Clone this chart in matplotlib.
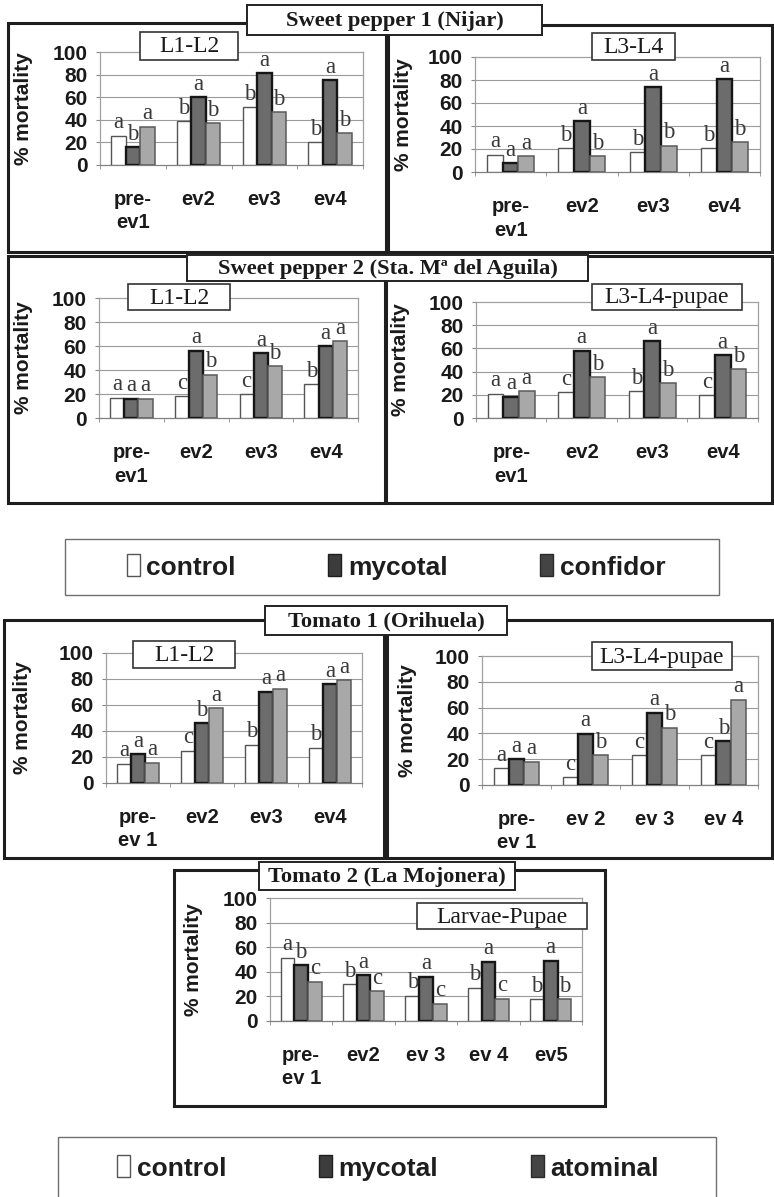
import matplotlib
matplotlib.use("Agg")
import matplotlib.pyplot as plt
from matplotlib.patches import Rectangle, Patch
import numpy as np

W, H = 774, 1197

# ---------------- data ----------------
treat_a = ["control", "mycotal", "confidor"]
treat_b = ["control", "mycotal", "atominal"]

cats_sp = ["pre-\nev1", "ev2", "ev3", "ev4"]
cats_t1l = ["pre-\nev 1", "ev2", "ev3", "ev4"]
cats_t1r = ["pre-\nev 1", "ev 2", "ev 3", "ev 4"]
cats_t2 = ["pre-\nev 1", "ev2", "ev 3", "ev 4", "ev5"]

# Sweet pepper 1 (Nijar) L1-L2
sp1a_control = [26, 39, 51, 20]
sp1a_mycotal = [16, 60, 81, 75]
sp1a_confidor = [34, 37, 47, 28]
sp1a_letters = ["aba", "bab", "bab", "bab"]

# Sweet pepper 1 (Nijar) L3-L4
sp1b_control = [15, 21, 17, 21]
sp1b_mycotal = [8, 44, 74, 81]
sp1b_confidor = [13.5, 13.5, 23, 26]
sp1b_letters = ["aaa", "bab", "bab", "bab"]

# Sweet pepper 2 L1-L2
sp2a_control = [17, 18, 20, 28]
sp2a_mycotal = [16, 56, 54, 60]
sp2a_confidor = [16, 36, 43, 64]
sp2a_letters = ["aaa", "cab", "cab", "baa"]

# Sweet pepper 2 L3-L4-pupae
sp2b_control = [21, 22, 23, 19.5]
sp2b_mycotal = [18.5, 58, 66.5, 54]
sp2b_confidor = [23, 35, 30, 42]
sp2b_letters = ["aaa", "cab", "bab", "cab"]

# Tomato 1 L1-L2
t1a_control = [15, 25, 29.5, 27]
t1a_mycotal = [22, 46, 70, 76]
t1a_atominal = [15.5, 57.5, 72.5, 79]
t1a_letters = ["aaa", "cba", "baa", "baa"]

# Tomato 1 L3-L4-pupae
t1b_control = [13, 6, 23, 23]
t1b_mycotal = [20, 39.5, 56, 34]
t1b_atominal = [18, 23, 44.5, 66]
t1b_letters = ["aaa", "cab", "cab", "cba"]

# Tomato 2 Larvae-Pupae
t2_control = [51.5, 30, 20.5, 27, 17.5]
t2_mycotal = [45.5, 37, 36, 48, 49]
t2_atominal = [32, 24, 14, 18, 17.5]
t2_letters = ["abc", "bac", "bac", "bac", "bab"]

yticks = [0, 20, 40, 60, 80, 100]

# ---------------- layout ----------------
panels = [
    dict(rect=(100, 52, 363, 165), cats=cats_sp, series=(sp1a_control, sp1a_mycotal, sp1a_confidor),
         letters=sp1a_letters, sub="L1-L2", subbox=(140, 32, 238, 60), ylab_off=67),
    dict(rect=(475, 57, 760, 172), cats=cats_sp, series=(sp1b_control, sp1b_mycotal, sp1b_confidor),
         letters=sp1b_letters, sub="L3-L4", subbox=(592, 33, 675, 60), ylab_off=62),
    dict(rect=(99, 298, 358, 418), cats=cats_sp, series=(sp2a_control, sp2a_mycotal, sp2a_confidor),
         letters=sp2a_letters, sub="L1-L2", subbox=(128, 284, 230, 310), ylab_off=66),
    dict(rect=(476, 302, 758, 418), cats=cats_sp, series=(sp2b_control, sp2b_mycotal, sp2b_confidor),
         letters=sp2b_letters, sub="L3-L4-pupae", subbox=(592, 284, 742, 310), ylab_off=66),
    dict(rect=(106, 653, 362, 783), cats=cats_t1l, series=(t1a_control, t1a_mycotal, t1a_atominal),
         letters=t1a_letters, sub="L1-L2", subbox=(133, 641, 235, 668), ylab_off=74),
    dict(rect=(482, 656, 758, 785), cats=cats_t1r, series=(t1b_control, t1b_mycotal, t1b_atominal),
         letters=t1b_letters, sub="L3-L4-pupae", subbox=(592, 642, 732, 670), ylab_off=65),
    dict(rect=(270, 898, 582, 1021), cats=cats_t2, series=(t2_control, t2_mycotal, t2_atominal),
         letters=t2_letters, sub="Larvae-Pupae", subbox=(417, 903, 587, 929), ylab_off=67),
]

frames = [
    (8, 23, 386, 252), (388, 25, 772, 252),
    (8, 256, 385, 503), (386, 256, 772, 503),
    (4, 620, 384, 858), (387, 620, 772, 858),
    (174, 870, 605, 1106),
]
legend_boxes = [(65, 539, 719, 595), (58, 1137, 716, 1205)]

titles = [
    ("Sweet pepper 1 (Nijar)", (247, 5, 542, 35)),
    ("Sweet pepper 2 (Sta. Mª del Aguila)", (187, 255, 588, 281)),
    ("Tomato 1 (Orihuela)", (265, 606, 507, 635)),
    ("Tomato 2 (La Mojonera)", (259, 862, 515, 890)),
]

bar_styles = [
    dict(facecolor="white", edgecolor="#555555", linewidth=1.0),
    dict(facecolor="#6c6c6c", edgecolor="#161616", linewidth=1.7),
    dict(facecolor="#a8a8a8", edgecolor="#5a5a5a", linewidth=1.1),
]

SANS = ["Liberation Sans", "DejaVu Sans"]
SERIF = ["Liberation Serif", "DejaVu Serif"]

fig = plt.figure(figsize=(W / 100, H / 100), dpi=100)
fig.patch.set_facecolor("white")

bg = fig.add_axes([0, 0, 1, 1], zorder=0)
bg.set_xlim(0, W)
bg.set_ylim(H, 0)
bg.axis("off")

fg = fig.add_axes([0, 0, 1, 1], zorder=5)
fg.set_xlim(0, W)
fg.set_ylim(H, 0)
fg.axis("off")

for (x0, y0, x1, y1) in frames:
    bg.add_patch(Rectangle((x0, y0), x1 - x0, y1 - y0, fill=False, edgecolor="#1e1e1e", linewidth=2.2))
for (x0, y0, x1, y1) in legend_boxes:
    bg.add_patch(Rectangle((x0, y0), x1 - x0, y1 - y0, fill=False, edgecolor="#707070", linewidth=1.0,
                           clip_on=False))

for text, (x0, y0, x1, y1) in titles:
    fg.add_patch(Rectangle((x0, y0), x1 - x0, y1 - y0, facecolor="white", edgecolor="#222222", linewidth=1.4))
    fg.text((x0 + x1) / 2, (y0 + y1) / 2 + 1, text, ha="center", va="center", family=SERIF,
            weight="bold", fontsize=16.2, color="#1a1a1a")

bw = 0.22
for p in panels:
    x0, y0, x1, y1 = p["rect"]
    ax = fig.add_axes([x0 / W, 1 - y1 / H, (x1 - x0) / W, (y1 - y0) / H], zorder=1)
    ax.set_facecolor("none")
    n = len(p["cats"])
    x = np.arange(n)
    for k, (vals, st) in enumerate(zip(p["series"], bar_styles)):
        xs = x + (k - 1) * bw
        ax.bar(xs, vals, bw, zorder=3, **st)
        for xi, v, lg in zip(xs, vals, p["letters"]):
            ax.text(xi, v + 2.0, lg[k], ha="center", va="bottom", family=SERIF, fontsize=16.5,
                    color="#3a3a3a", zorder=4, clip_on=False)
    ax.set_xlim(-0.5, n - 0.5)
    ax.set_ylim(0, 100)
    ax.set_yticks(yticks)
    ax.set_yticklabels([str(t) for t in yticks], family=SANS, weight="bold", fontsize=15, color="#1a1a1a")
    ax.set_xticks(x)
    ax.set_xticklabels(p["cats"], family=SANS, weight="bold", fontsize=14.5, color="#1a1a1a",
                       linespacing=1.3)
    ax.set_xticks(np.arange(n + 1) - 0.5, minor=True)
    ax.tick_params(axis="x", which="major", length=0, pad=18)
    ax.tick_params(axis="x", which="minor", length=3, color="#888888", direction="out")
    ax.tick_params(axis="y", length=3, color="#888888", pad=6)
    for y in yticks[1:-1]:
        ax.axhline(y, color="#9a9a9a", linewidth=0.8, zorder=1)
    for s in ax.spines.values():
        s.set_color("#a0a0a0")
        s.set_linewidth(0.9)
    ax.spines["bottom"].set_color("#808080")
    ax.set_ylabel("% mortality", family=SANS, weight="bold", fontsize=15, color="#1a1a1a")
    ax.yaxis.set_label_coords(-p["ylab_off"] / (x1 - x0), 0.5)
    bx0, by0, bx1, by1 = p["subbox"]
    fg.add_patch(Rectangle((bx0, by0), bx1 - bx0, by1 - by0, facecolor="white", edgecolor="#333333",
                           linewidth=1.2))
    fg.text((bx0 + bx1) / 2, (by0 + by1) / 2 + 1, p["sub"], ha="center", va="center", family=SERIF,
            fontsize=17, color="#1a1a1a")

leg_prop = dict(family=SANS, weight="bold", size=19)
for names, (cx, cy) in ((treat_a, (396, 567)), (treat_b, (388, 1168))):
    handles = [
        Patch(facecolor="white", edgecolor="#555555", linewidth=1.0),
        Patch(facecolor="#3c3c3c", edgecolor="#1e1e1e", linewidth=1.0),
        Patch(facecolor="#444444", edgecolor="#2a2a2a", linewidth=1.0),
    ]
    fig.legend(handles, names, loc="center", bbox_to_anchor=(cx / W, 1 - cy / H), ncol=3, frameon=False,
               prop=leg_prop, handlelength=0.5, handleheight=0.9, handletextpad=0.25, columnspacing=3.5,
               labelcolor="#1e1e1e")

fig.savefig("out.png", dpi=100, facecolor="white")
